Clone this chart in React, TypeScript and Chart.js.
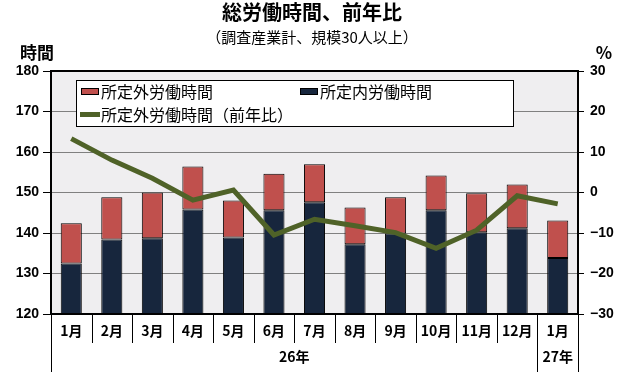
import React, { useEffect, useRef } from "react";
import { Chart, registerables } from "chart.js";

Chart.register(...registerables);

const months = ["1月", "2月", "3月", "4月", "5月", "6月", "7月", "8月", "9月", "10月", "11月", "12月", "1月"];
const years = [
  { label: "26年", from: 0, to: 12 },
  { label: "27年", from: 12, to: 13 },
];
const scheduledHours = [132.5, 138.4, 138.7, 145.8, 138.9, 145.6, 147.6, 137.2, 139.9, 145.6, 140.2, 141.2, 133.8];
const overtimeHours = [9.9, 10.4, 11.3, 10.6, 9.1, 9.0, 9.4, 9.1, 8.9, 8.6, 9.6, 10.8, 9.3];
const overtimeYoY = [13.3, 8.0, 3.5, -1.9, 0.6, -10.5, -6.6, -8.2, -9.9, -13.8, -9.3, -0.8, -2.8];
const leftTicks = [120, 130, 140, 150, 160, 170, 180];
const rightTicks = [-30, -20, -10, 0, 10, 20, 30];

const title = "総労働時間、前年比";
const subtitle = "（調査産業計、規模30人以上）";
const leftAxisTitle = "時間";
const rightAxisTitle = "%";
const labelOvertime = "所定外労働時間";
const labelScheduled = "所定内労働時間";
const labelYoY = "所定外労働時間（前年比）";

const RED = "#C0504D";
const NAVY = "#17263D";
const OLIVE = "#4F6228";
const JP = '"Noto Sans CJK JP", "Noto Sans", sans-serif';
const NUM = '"Liberation Sans", Arial, sans-serif';

const drawPlugin = {
  id: "custom-draw",
  beforeDraw(chart: any) {
    const { ctx, chartArea } = chart;
    ctx.save();
    ctx.fillStyle = "#ffffff";
    ctx.fillRect(0, 0, chart.width, chart.height);
    ctx.fillStyle = "#EFEEF0";
    ctx.fillRect(chartArea.left, chartArea.top, chartArea.right - chartArea.left, chartArea.bottom - chartArea.top);
    ctx.restore();
  },
  afterDraw(chart: any) {
    const { ctx, chartArea } = chart;
    const x = chart.scales.x;
    const { left, right, top, bottom } = chartArea;
    ctx.save();
    // plot border
    ctx.strokeStyle = "#000";
    ctx.lineWidth = 2;
    ctx.strokeRect(left, top, right - left, bottom - top);

    // titles
    ctx.fillStyle = "#000";
    ctx.textAlign = "center";
    ctx.textBaseline = "middle";
    ctx.font = `bold 20px ${JP}`;
    ctx.fillText(title, 312, 12);
    ctx.font = `15px ${JP}`;
    ctx.fillText(subtitle, 312, 37);
    ctx.font = `bold 17px ${JP}`;
    ctx.fillText(leftAxisTitle, 37, 53);
    ctx.fillText(rightAxisTitle, 604, 53);

    // category axis
    const n = months.length;
    const w = (right - left) / n;
    ctx.lineWidth = 1;
    ctx.strokeStyle = "#000";
    const longIdx = new Set<number>();
    years.forEach((y) => {
      longIdx.add(y.from);
      longIdx.add(y.to);
    });
    for (let i = 0; i <= n; i++) {
      const px = Math.round(left + i * w) + 0.5;
      ctx.beginPath();
      ctx.moveTo(px, bottom);
      ctx.lineTo(px, longIdx.has(i) ? 372 : 343);
      ctx.stroke();
    }
    ctx.font = `bold 14px ${JP}`;
    months.forEach((m, i) => {
      ctx.fillText(m, x.getPixelForValue(i), 331);
    });
    years.forEach((y) => {
      const cx = left + ((y.from + y.to) / 2) * w;
      ctx.fillText(y.label, cx, 357);
    });

    // legend
    ctx.fillStyle = "#fff";
    ctx.fillRect(76.5, 80.5, 437, 46);
    ctx.strokeStyle = "#000";
    ctx.lineWidth = 1;
    ctx.strokeRect(76.5, 80.5, 437, 46);
    ctx.textAlign = "left";
    ctx.font = `16px ${JP}`;
    const swatch = (sx: number, sy: number, color: string) => {
      ctx.fillStyle = color;
      ctx.fillRect(sx, sy, 18, 7);
      ctx.strokeStyle = "#000";
      ctx.strokeRect(sx + 0.5, sy + 0.5, 17, 6);
    };
    swatch(81, 88, RED);
    ctx.fillStyle = "#000";
    ctx.fillText(labelOvertime, 101, 92);
    swatch(300, 88, NAVY);
    ctx.fillStyle = "#000";
    ctx.fillText(labelScheduled, 320, 92);
    ctx.strokeStyle = OLIVE;
    ctx.lineWidth = 5;
    ctx.beginPath();
    ctx.moveTo(80, 114.5);
    ctx.lineTo(100, 114.5);
    ctx.stroke();
    ctx.fillStyle = "#000";
    ctx.fillText(labelYoY, 101, 115);
    ctx.restore();
  },
};

export default function App() {
  const ref = useRef<HTMLCanvasElement>(null);
  useEffect(() => {
    if (!ref.current) return;
    const chart = new Chart(ref.current, {
      type: "bar",
      data: {
        labels: months,
        datasets: [
          {
            type: "line",
            label: labelYoY,
            data: overtimeYoY,
            yAxisID: "y2",
            borderColor: OLIVE,
            backgroundColor: OLIVE,
            borderWidth: 5,
            pointRadius: 0,
            tension: 0,
            order: 0,
          } as any,
          {
            label: labelScheduled,
            data: scheduledHours,
            backgroundColor: NAVY,
            borderColor: "#000",
            borderWidth: 1,
            borderSkipped: false,
            yAxisID: "y",
            stack: "s",
            order: 1,
          },
          {
            label: labelOvertime,
            data: overtimeHours,
            backgroundColor: RED,
            borderColor: "#000",
            borderWidth: 1,
            borderSkipped: false,
            yAxisID: "y",
            stack: "s",
            order: 1,
          },
        ],
      },
      options: {
        responsive: false,
        animation: false,
        events: [],
        layout: { padding: { top: 71, bottom: 66, left: 0, right: 0 } },
        datasets: { bar: { barPercentage: 0.52, categoryPercentage: 1 } },
        plugins: { legend: { display: false }, tooltip: { enabled: false }, title: { display: false } },
        scales: {
          x: {
            display: false,
            stacked: true,
            offset: true,
          },
          y: {
            position: "left",
            stacked: true,
            min: 120,
            max: 180,
            afterBuildTicks: (s: any) => {
              s.ticks = leftTicks.map((v) => ({ value: v }));
            },
            afterFit: (s: any) => {
              s.width = 51;
            },
            ticks: {
              color: "#000",
              font: { family: NUM, size: 14, weight: "bold" },
              padding: 4,
            },
            grid: { color: "#808080", tickColor: "#000", tickLength: 8, lineWidth: 1 },
            border: { display: true, color: "#000", width: 2 },
          },
          y2: {
            position: "right",
            min: -30,
            max: 30,
            afterBuildTicks: (s: any) => {
              s.ticks = rightTicks.map((v) => ({ value: v }));
            },
            afterFit: (s: any) => {
              s.width = 52;
            },
            ticks: {
              color: "#000",
              font: { family: NUM, size: 14, weight: "bold" },
              padding: 6,
              callback: (v: any) => (Number(v) < 0 ? "\u2212" + Math.abs(Number(v)) : String(v)),
            },
            grid: { drawOnChartArea: false, tickColor: "#000", tickLength: 6 },
            border: { display: true, color: "#000", width: 2 },
          },
        },
      } as any,
      plugins: [drawPlugin],
    });
    return () => chart.destroy();
  }, []);
  return (
    <div style={{ position: "absolute", left: 0, top: 0, width: 630, height: 380 }}>
      <canvas ref={ref} width={630} height={380} />
    </div>
  );
}
